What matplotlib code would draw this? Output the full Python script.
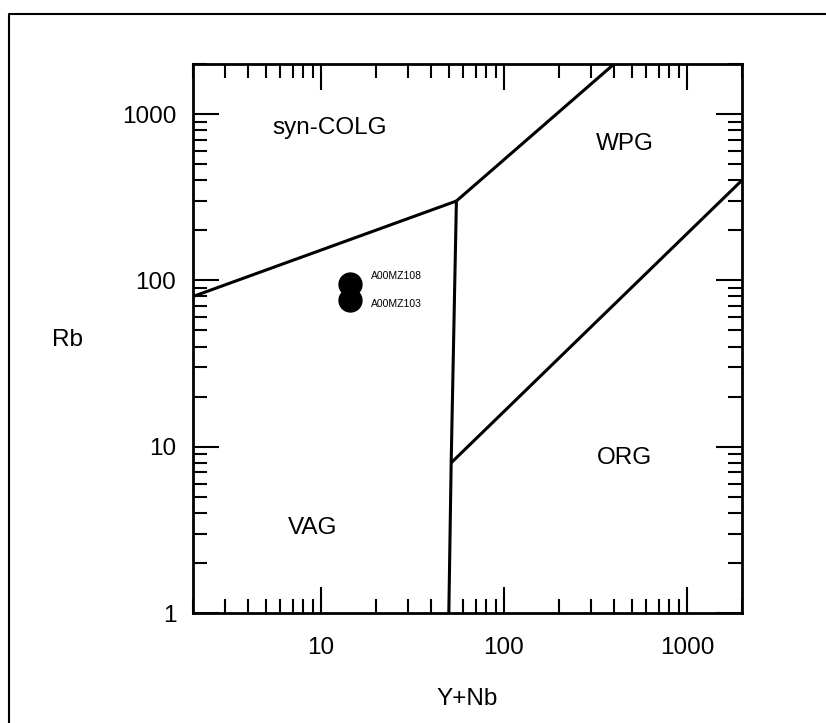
import matplotlib
matplotlib.use('Agg')
import matplotlib.pyplot as plt
from matplotlib.ticker import LogLocator, NullFormatter
from matplotlib.lines import Line2D

plt.rcParams['font.family'] = ['Liberation Sans', 'DejaVu Sans']

# Pearce et al. (1984) field boundaries, Rb vs Y+Nb
syn_vag_x = [2, 55]
syn_vag_y = [80, 300]
syn_wpg_x = [55, 400]
syn_wpg_y = [300, 2000]
vag_org_x = [50, 51.5, 55]
vag_org_y = [1, 8, 300]
wpg_org_x = [51.5, 2000]
wpg_org_y = [8, 400]

field_names = ['syn-COLG', 'WPG', 'VAG', 'ORG']
field_x = [11.2, 458, 9.0, 458]
field_y = [820, 660, 3.25, 8.5]

# samples
sample_names = ['A00MZ108', 'A00MZ103']
sample_ynb = [14.5, 14.5]
sample_rb = [95, 76]
label_offsets = [(15, 6), (15, -3)]

x_ticks = [10, 100, 1000]
y_ticks = [1, 10, 100, 1000]

fig = plt.figure(figsize=(8.26, 7.23), dpi=100)
ax = fig.add_axes([193 / 826, 110 / 723, 549 / 826, 549 / 723])

lw = 2.2
for bx, by in [(syn_vag_x, syn_vag_y), (syn_wpg_x, syn_wpg_y),
               (vag_org_x, vag_org_y), (wpg_org_x, wpg_org_y)]:
    ax.plot(bx, by, color='black', lw=lw, solid_capstyle='butt', clip_on=True)

ax.plot(sample_ynb, sample_rb, 'o', color='black', markersize=16.5, ls='none')
for name, xv, yv, off in zip(sample_names, sample_ynb, sample_rb, label_offsets):
    ax.annotate(name, (xv, yv), xytext=off, textcoords='offset points',
                fontsize=7.5, va='center', ha='left')

for name, xv, yv in zip(field_names, field_x, field_y):
    ax.text(xv, yv, name, fontsize=17.5, ha='center', va='center')

ax.set_xscale('log')
ax.set_yscale('log')
ax.set_xlim(2, 2000)
ax.set_ylim(1, 2000)

ax.set_xticks(x_ticks)
ax.set_xticklabels([str(t) for t in x_ticks])
ax.set_yticks(y_ticks)
ax.set_yticklabels([str(t) for t in y_ticks])
ax.xaxis.set_minor_locator(LogLocator(base=10, subs=range(2, 10), numticks=20))
ax.yaxis.set_minor_locator(LogLocator(base=10, subs=range(2, 10), numticks=20))
ax.xaxis.set_minor_formatter(NullFormatter())
ax.yaxis.set_minor_formatter(NullFormatter())

ax.tick_params(which='both', direction='in', top=True, right=True,
               width=1.5, labelsize=17.5, color='black')
ax.tick_params(which='major', length=19)
ax.tick_params(which='minor', length=10)
ax.tick_params(axis='x', which='major', pad=17)
ax.tick_params(axis='y', which='major', pad=12)

for s in ax.spines.values():
    s.set_linewidth(2)

ax.set_xlabel('Y+Nb', fontsize=17.5, labelpad=21)
ax.set_ylabel('Rb', fontsize=17.5, rotation=0, va='center', ha='center', labelpad=0)
ax.yaxis.set_label_coords(-0.228, 0.498)

# outer frame of the scanned page
fig.add_artist(Line2D([9 / 826, 9 / 826, 1.0], [0.0, 1 - 14 / 723, 1 - 14 / 723],
                      transform=fig.transFigure, color='black', lw=1.5))

fig.savefig('out.png', dpi=100)
